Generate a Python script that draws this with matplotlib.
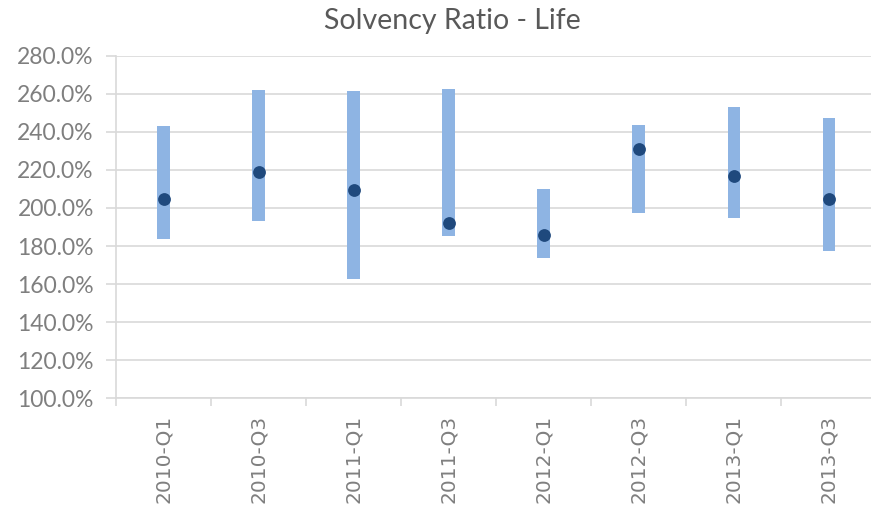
import matplotlib
matplotlib.use("Agg")
import matplotlib.pyplot as plt
from matplotlib.ticker import FuncFormatter, FixedLocator

categories = ["2010-Q1", "2010-Q3", "2011-Q1", "2011-Q3", "2012-Q1", "2012-Q3", "2013-Q1", "2013-Q3"]
high = [243.1, 262.0, 261.3, 262.7, 210.1, 243.8, 253.2, 247.1]
low = [183.9, 193.3, 162.5, 185.3, 173.7, 197.4, 194.6, 177.2]
mid = [204.5, 218.9, 209.4, 191.9, 186.0, 231.0, 216.8, 204.5]
yticks = [100, 120, 140, 160, 180, 200, 220, 240, 260, 280]

plt.rcParams['font.family'] = ['Lato', 'DejaVu Sans']

fig = plt.figure(figsize=(8.71, 5.12), dpi=100)
ax = fig.add_axes([116/871, 1-398.3/512, 760.5/871, 342.6/512])

x = list(range(len(categories)))
heights = [h - l for h, l in zip(high, low)]
ax.bar(x, heights, bottom=low, width=0.134, color="#8EB4E3", zorder=2)
ax.scatter(x, mid, s=85, color="#1F497D", zorder=3, linewidths=0)

ax.set_xlim(-0.5, len(categories) - 0.5)
ax.set_ylim(100, 280)
ax.set_yticks(yticks)
ax.yaxis.set_major_formatter(FuncFormatter(lambda v, p: f"{v:.1f}%"))
ax.grid(axis="y", color="#D9D9D9", linewidth=1.2, zorder=0)
ax.set_axisbelow(True)

ax.set_xticks(x)
ax.set_xticklabels(categories, rotation=90, family=["DejaVu Sans"])
ax.xaxis.set_minor_locator(FixedLocator([i - 0.5 for i in range(len(categories) + 1)]))
ax.tick_params(axis="x", which="major", length=0, pad=12, labelsize=14.5, labelcolor="#7F7F7F")
ax.tick_params(axis="x", which="minor", length=6, color="#D9D9D9", width=1.2)
ax.tick_params(axis="y", length=7, color="#D9D9D9", width=1.2, pad=9, labelsize=16.5, labelcolor="#7F7F7F")

for s in ["top", "right"]:
    ax.spines[s].set_visible(False)
for s in ["left", "bottom"]:
    ax.spines[s].set_color("#D9D9D9")
    ax.spines[s].set_linewidth(1.2)

fig.text(452/871, 1-21/512, "Solvency Ratio - Life", ha="center", va="center", fontsize=20.5, color="#595959")

fig.savefig("out.png", dpi=100)
